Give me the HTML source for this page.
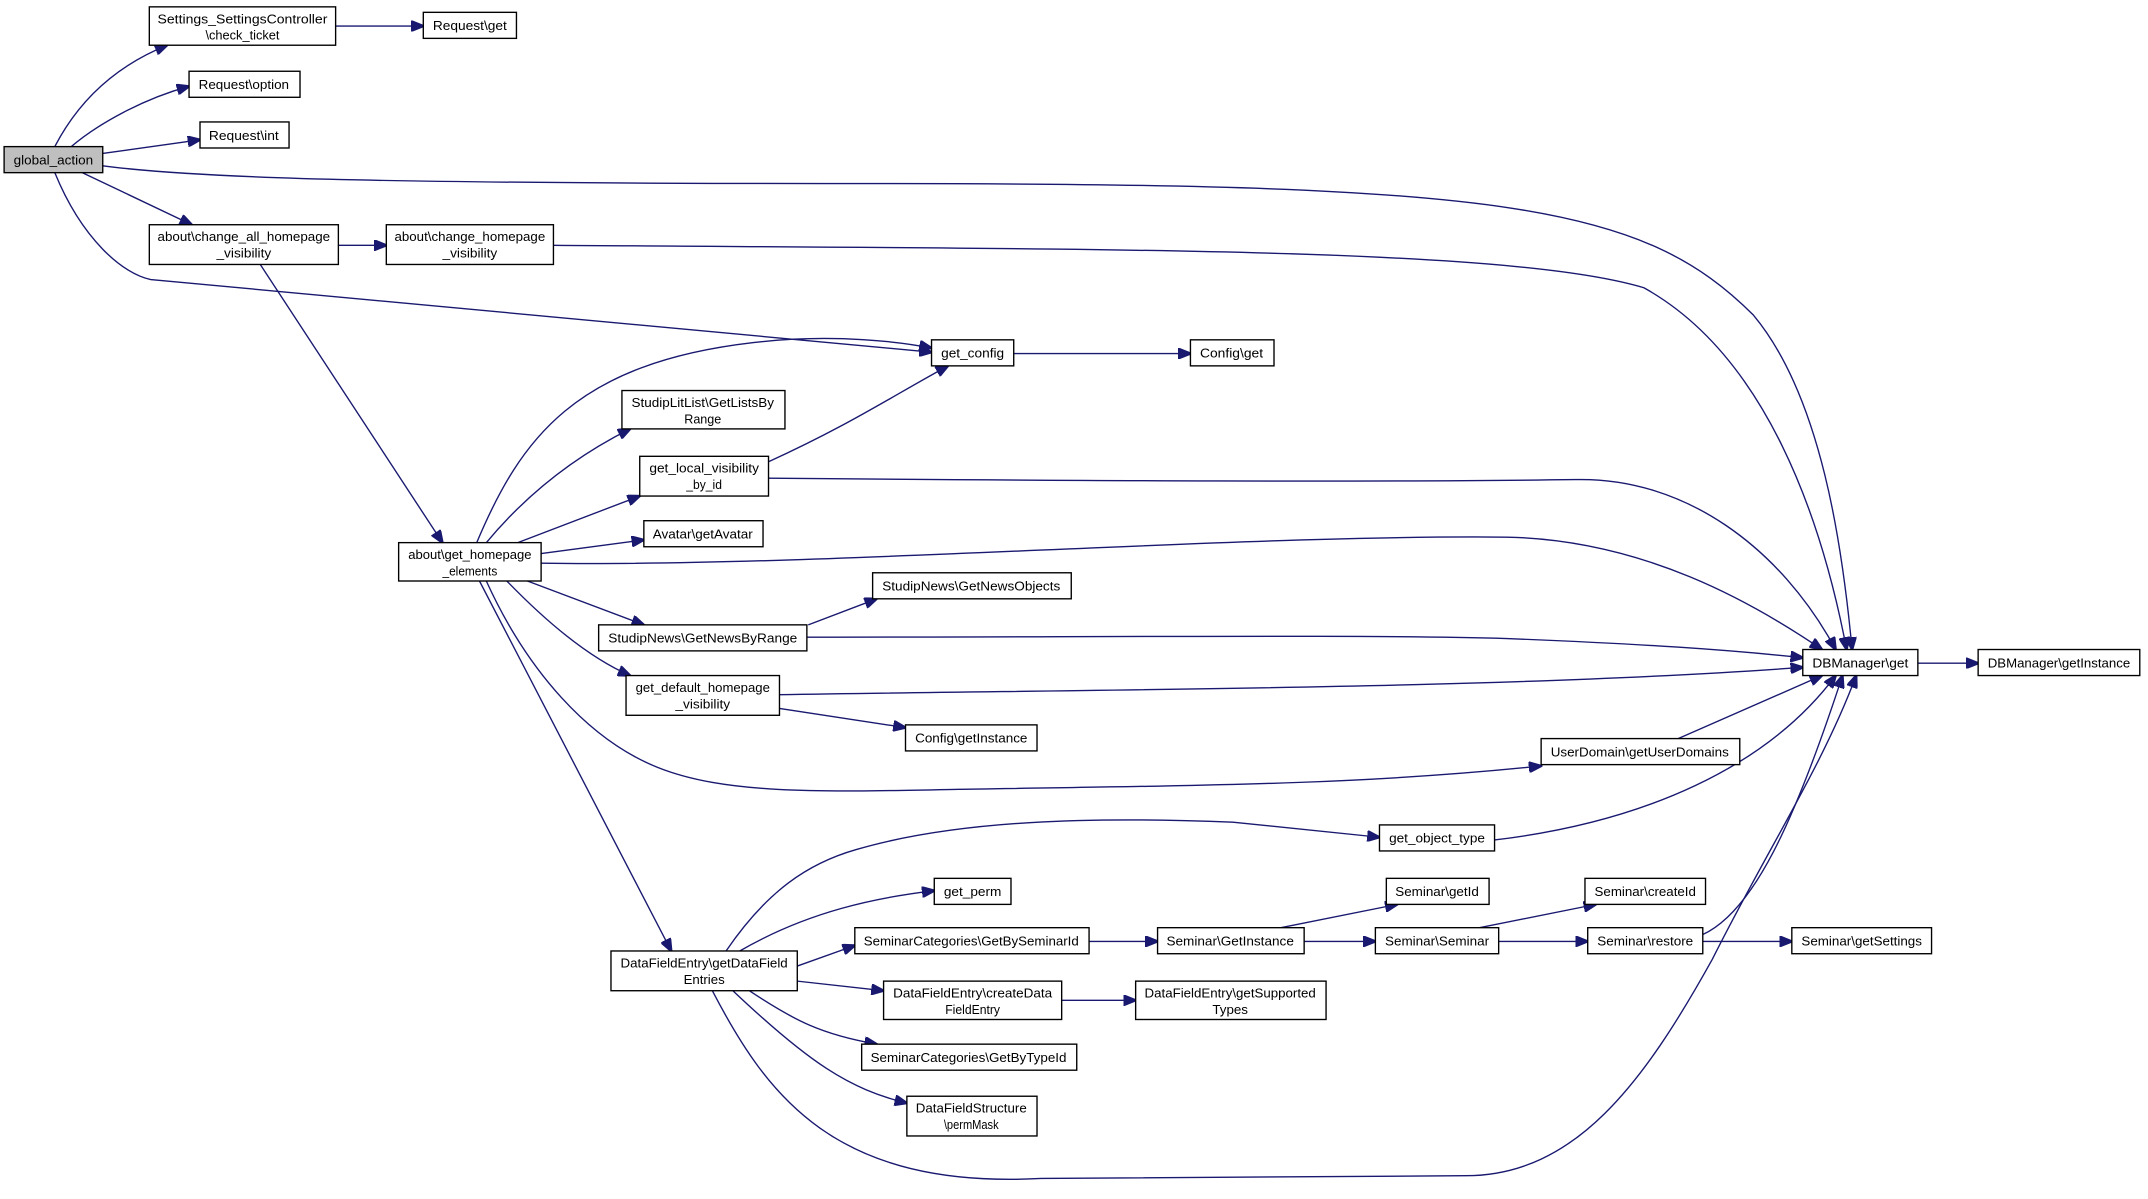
<!DOCTYPE html>
<html><head><meta charset="utf-8"><style>
html,body{margin:0;padding:0;background:#fff;}
svg{display:block;}
text{font-family:"Liberation Sans",sans-serif;font-size:9.6px;fill:#000;}
.e{fill:none;stroke:#191970;stroke-width:1;}
.n{fill:#fff;stroke:#000;stroke-width:1;}
</style></head><body>
<svg width="2148" height="1199" viewBox="0 0 1568 875" preserveAspectRatio="none" xmlns="http://www.w3.org/2000/svg">
<defs>
<marker id="a" markerWidth="10" markerHeight="8" refX="9" refY="4" orient="auto" markerUnits="userSpaceOnUse">
<path d="M0,0 L10,4 L0,8 Z" fill="#191970" stroke="#191970"/>
</marker>
</defs>
<g class="edges">
<path class="e" marker-end="url(#a)" d="M40,107 C55,78 80,50 122,33"/>
<path class="e" marker-end="url(#a)" d="M52,107 C72,90 105,72 138,63"/>
<path class="e" marker-end="url(#a)" d="M75,112 L146,102"/>
<path class="e" marker-end="url(#a)" d="M75,121 C150,131 300,134 650,134 C1100,134 1200,150 1280,230 C1330,290 1345,400 1352,474"/>
<path class="e" marker-end="url(#a)" d="M60,126 L140,164"/>
<path class="e" marker-end="url(#a)" d="M40,126 C60,175 90,200 110,204 L680,257"/>
<path class="e" marker-end="url(#a)" d="M245,19 L309,19"/>
<path class="e" marker-end="url(#a)" d="M247,179 L282,179"/>
<path class="e" marker-end="url(#a)" d="M404,179 C800,182 1100,180 1200,210 C1290,260 1330,380 1348,474"/>
<path class="e" marker-end="url(#a)" d="M190,193 L323,396"/>
<path class="e" marker-end="url(#a)" d="M348,396 C380,320 420,265 550,250 C610,243 660,250 680,254"/>
<path class="e" marker-end="url(#a)" d="M355,396 C385,360 420,333 460,313"/>
<path class="e" marker-end="url(#a)" d="M378,396 L467,362"/>
<path class="e" marker-end="url(#a)" d="M395,404 L470,394"/>
<path class="e" marker-end="url(#a)" d="M395,411 C600,414 900,390 1100,392 C1200,394 1280,440 1330,474"/>
<path class="e" marker-end="url(#a)" d="M385,424 L470,456"/>
<path class="e" marker-end="url(#a)" d="M370,424 C400,455 430,480 460,493"/>
<path class="e" marker-end="url(#a)" d="M355,424 C385,490 430,540 480,560 C530,580 600,578 700,576 C900,573 1000,572 1125,559"/>
<path class="e" marker-end="url(#a)" d="M350,424 L490,694"/>
<path class="e" marker-end="url(#a)" d="M561,337 C620,310 650,290 692,267"/>
<path class="e" marker-end="url(#a)" d="M561,349 C800,351 1000,352 1150,350 C1230,348 1300,400 1340,474"/>
<path class="e" marker-end="url(#a)" d="M740,258 L869,258"/>
<path class="e" marker-end="url(#a)" d="M590,456 L640,437"/>
<path class="e" marker-end="url(#a)" d="M589,465 C800,465 1000,463 1100,466 C1200,470 1260,474 1316,480"/>
<path class="e" marker-end="url(#a)" d="M569,507 C800,503 1100,503 1316,487"/>
<path class="e" marker-end="url(#a)" d="M569,517 L661,531"/>
<path class="e" marker-end="url(#a)" d="M1225,539 L1330,493"/>
<path class="e" marker-end="url(#a)" d="M1091,613 C1200,600 1290,560 1340,493"/>
<path class="e" marker-end="url(#a)" d="M530,694 C560,650 590,630 625,620 C700,598 800,596 900,600 L1007,611"/>
<path class="e" marker-end="url(#a)" d="M540,694 C590,665 640,655 682,650"/>
<path class="e" marker-end="url(#a)" d="M582,705 L624,690"/>
<path class="e" marker-end="url(#a)" d="M582,716 L645,723"/>
<path class="e" marker-end="url(#a)" d="M547,723 C580,745 600,755 640,762"/>
<path class="e" marker-end="url(#a)" d="M535,723 C590,775 620,795 662,805"/>
<path class="e" marker-end="url(#a)" d="M520,723 C560,800 610,868 760,860 L1070,858 C1150,858 1200,790 1250,700 C1290,620 1330,560 1355,493"/>
<path class="e" marker-end="url(#a)" d="M795,687 L845,687"/>
<path class="e" marker-end="url(#a)" d="M935,677 L1020,660"/>
<path class="e" marker-end="url(#a)" d="M952,687 L1004,687"/>
<path class="e" marker-end="url(#a)" d="M1080,677 L1165,660"/>
<path class="e" marker-end="url(#a)" d="M1094,687 L1159,687"/>
<path class="e" marker-end="url(#a)" d="M1243,687 L1308,687"/>
<path class="e" marker-end="url(#a)" d="M1243,682 C1280,665 1310,600 1345,493"/>
<path class="e" marker-end="url(#a)" d="M775,730 L829,730"/>
<path class="e" marker-end="url(#a)" d="M1400,484 L1444,484"/>
</g>
<g class="nodes">
<rect x="3" y="107" width="72" height="19" fill="#bfbfbf" stroke="#000"/>
<text x="39" y="120" text-anchor="middle" textLength="58" lengthAdjust="spacingAndGlyphs">global_action</text>

<rect class="n" x="109" y="5" width="136" height="28"/>
<text x="177" y="17" text-anchor="middle" textLength="124" lengthAdjust="spacingAndGlyphs">Settings_SettingsController</text>
<text x="177" y="29" text-anchor="middle" textLength="54" lengthAdjust="spacingAndGlyphs">\check_ticket</text>

<rect class="n" x="309" y="9" width="68" height="19"/>
<text x="343" y="22" text-anchor="middle" textLength="54" lengthAdjust="spacingAndGlyphs">Request\get</text>

<rect class="n" x="138" y="52" width="81" height="19"/>
<text x="178" y="65" text-anchor="middle" textLength="66" lengthAdjust="spacingAndGlyphs">Request\option</text>

<rect class="n" x="146" y="89" width="65" height="19"/>
<text x="178" y="102" text-anchor="middle" textLength="51" lengthAdjust="spacingAndGlyphs">Request\int</text>

<rect class="n" x="109" y="164" width="138" height="29"/>
<text x="178" y="176" text-anchor="middle" textLength="126" lengthAdjust="spacingAndGlyphs">about\change_all_homepage</text>
<text x="178" y="188" text-anchor="middle" textLength="40" lengthAdjust="spacingAndGlyphs">_visibility</text>

<rect class="n" x="282" y="164" width="122" height="29"/>
<text x="343" y="176" text-anchor="middle" textLength="110" lengthAdjust="spacingAndGlyphs">about\change_homepage</text>
<text x="343" y="188" text-anchor="middle" textLength="40" lengthAdjust="spacingAndGlyphs">_visibility</text>

<rect class="n" x="680" y="248" width="60" height="19"/>
<text x="710" y="261" text-anchor="middle" textLength="46" lengthAdjust="spacingAndGlyphs">get_config</text>

<rect class="n" x="869" y="248" width="61" height="19"/>
<text x="899" y="261" text-anchor="middle" textLength="46" lengthAdjust="spacingAndGlyphs">Config\get</text>

<rect class="n" x="454" y="285" width="119" height="28"/>
<text x="513" y="297" text-anchor="middle" textLength="104" lengthAdjust="spacingAndGlyphs">StudipLitList\GetListsBy</text>
<text x="513" y="309" text-anchor="middle" textLength="27" lengthAdjust="spacingAndGlyphs">Range</text>

<rect class="n" x="467" y="333" width="94" height="29"/>
<text x="514" y="345" text-anchor="middle" textLength="80" lengthAdjust="spacingAndGlyphs">get_local_visibility</text>
<text x="514" y="357" text-anchor="middle" textLength="26" lengthAdjust="spacingAndGlyphs">_by_id</text>

<rect class="n" x="470" y="380" width="87" height="19"/>
<text x="513" y="393" text-anchor="middle" textLength="73" lengthAdjust="spacingAndGlyphs">Avatar\getAvatar</text>

<rect class="n" x="291" y="396" width="104" height="28"/>
<text x="343" y="408" text-anchor="middle" textLength="90" lengthAdjust="spacingAndGlyphs">about\get_homepage</text>
<text x="343" y="420" text-anchor="middle" textLength="40" lengthAdjust="spacingAndGlyphs">_elements</text>

<rect class="n" x="637" y="418" width="145" height="19"/>
<text x="709" y="431" text-anchor="middle" textLength="130" lengthAdjust="spacingAndGlyphs">StudipNews\GetNewsObjects</text>

<rect class="n" x="437" y="456" width="152" height="19"/>
<text x="513" y="469" text-anchor="middle" textLength="138" lengthAdjust="spacingAndGlyphs">StudipNews\GetNewsByRange</text>

<rect class="n" x="457" y="493" width="112" height="29"/>
<text x="513" y="505" text-anchor="middle" textLength="98" lengthAdjust="spacingAndGlyphs">get_default_homepage</text>
<text x="513" y="517" text-anchor="middle" textLength="40" lengthAdjust="spacingAndGlyphs">_visibility</text>

<rect class="n" x="661" y="529" width="96" height="19"/>
<text x="709" y="542" text-anchor="middle" textLength="82" lengthAdjust="spacingAndGlyphs">Config\getInstance</text>

<rect class="n" x="1316" y="474" width="84" height="19"/>
<text x="1358" y="487" text-anchor="middle" textLength="70" lengthAdjust="spacingAndGlyphs">DBManager\get</text>

<rect class="n" x="1444" y="474" width="118" height="19"/>
<text x="1503" y="487" text-anchor="middle" textLength="104" lengthAdjust="spacingAndGlyphs">DBManager\getInstance</text>

<rect class="n" x="1125" y="539" width="145" height="19"/>
<text x="1197" y="552" text-anchor="middle" textLength="130" lengthAdjust="spacingAndGlyphs">UserDomain\getUserDomains</text>

<rect class="n" x="1007" y="602" width="84" height="19"/>
<text x="1049" y="615" text-anchor="middle" textLength="70" lengthAdjust="spacingAndGlyphs">get_object_type</text>

<rect class="n" x="682" y="641" width="56" height="19"/>
<text x="710" y="654" text-anchor="middle" textLength="42" lengthAdjust="spacingAndGlyphs">get_perm</text>

<rect class="n" x="624" y="677" width="171" height="19"/>
<text x="709" y="690" text-anchor="middle" textLength="157" lengthAdjust="spacingAndGlyphs">SeminarCategories\GetBySeminarId</text>

<rect class="n" x="845" y="677" width="107" height="19"/>
<text x="898" y="690" text-anchor="middle" textLength="93" lengthAdjust="spacingAndGlyphs">Seminar\GetInstance</text>

<rect class="n" x="1012" y="641" width="75" height="19"/>
<text x="1049" y="654" text-anchor="middle" textLength="61" lengthAdjust="spacingAndGlyphs">Seminar\getId</text>

<rect class="n" x="1004" y="677" width="90" height="19"/>
<text x="1049" y="690" text-anchor="middle" textLength="76" lengthAdjust="spacingAndGlyphs">Seminar\Seminar</text>

<rect class="n" x="1157" y="641" width="88" height="19"/>
<text x="1201" y="654" text-anchor="middle" textLength="74" lengthAdjust="spacingAndGlyphs">Seminar\createId</text>

<rect class="n" x="1159" y="677" width="84" height="19"/>
<text x="1201" y="690" text-anchor="middle" textLength="70" lengthAdjust="spacingAndGlyphs">Seminar\restore</text>

<rect class="n" x="1308" y="677" width="102" height="19"/>
<text x="1359" y="690" text-anchor="middle" textLength="88" lengthAdjust="spacingAndGlyphs">Seminar\getSettings</text>

<rect class="n" x="446" y="694" width="136" height="29"/>
<text x="514" y="706" text-anchor="middle" textLength="122" lengthAdjust="spacingAndGlyphs">DataFieldEntry\getDataField</text>
<text x="514" y="718" text-anchor="middle" textLength="30" lengthAdjust="spacingAndGlyphs">Entries</text>

<rect class="n" x="645" y="716" width="130" height="28"/>
<text x="710" y="728" text-anchor="middle" textLength="116" lengthAdjust="spacingAndGlyphs">DataFieldEntry\createData</text>
<text x="710" y="740" text-anchor="middle" textLength="40" lengthAdjust="spacingAndGlyphs">FieldEntry</text>

<rect class="n" x="829" y="716" width="139" height="28"/>
<text x="898" y="728" text-anchor="middle" textLength="125" lengthAdjust="spacingAndGlyphs">DataFieldEntry\getSupported</text>
<text x="898" y="740" text-anchor="middle" textLength="26" lengthAdjust="spacingAndGlyphs">Types</text>

<rect class="n" x="629" y="762" width="157" height="19"/>
<text x="707" y="775" text-anchor="middle" textLength="143" lengthAdjust="spacingAndGlyphs">SeminarCategories\GetByTypeId</text>

<rect class="n" x="662" y="800" width="95" height="29"/>
<text x="709" y="812" text-anchor="middle" textLength="81" lengthAdjust="spacingAndGlyphs">DataFieldStructure</text>
<text x="709" y="824" text-anchor="middle" textLength="40" lengthAdjust="spacingAndGlyphs">\permMask</text>
</g>
</svg>
</body></html>
